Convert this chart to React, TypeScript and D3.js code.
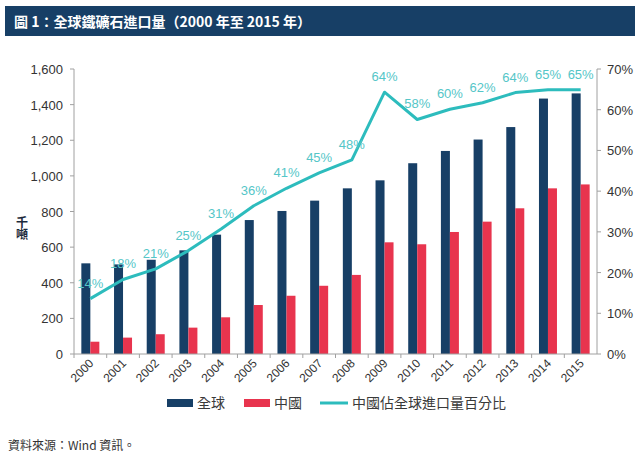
import React from "react";
import * as d3 from "d3";

const years = ["2000","2001","2002","2003","2004","2005","2006","2007","2008","2009","2010","2011","2012","2013","2014","2015"];
const globalImports = [509, 503, 529, 582, 670, 752, 803, 861, 930, 975, 1071, 1140, 1204, 1274, 1434, 1463];
const chinaImports = [69, 92, 111, 148, 206, 275, 327, 383, 444, 627, 616, 685, 743, 818, 930, 952];
const chinaShare = [13.6, 18.3, 20.9, 25.4, 30.7, 36.4, 40.7, 44.5, 47.7, 64.3, 57.6, 60.1, 61.7, 64.2, 64.9, 64.9];
const shareLabels = ["14%","18%","21%","25%","31%","36%","41%","45%","48%","64%","58%","60%","62%","64%","65%","65%"];
const leftTicks = [0, 200, 400, 600, 800, 1000, 1200, 1400, 1600];
const rightTicks = [0, 10, 20, 30, 40, 50, 60, 70];

const NAVY = "#173f66";
const RED = "#e8344e";
const TEAL = "#2dbcbd";
const TEAL_TXT = "#55c6c8";
const AXIS = "#a0a0a0";
const FONT = "'Liberation Sans', Arial, 'Noto Sans CJK TC', sans-serif";
const CJK = "'Noto Sans CJK TC', 'Liberation Sans', sans-serif";

export default function App() {
  const W = 640, H = 455;
  const x0 = 74, x1 = 597, yTop = 69, yBot = 354;
  const x = d3.scaleBand<string>().domain(years).range([x0, x1]).paddingInner(0).paddingOuter(0);
  const yL = d3.scaleLinear().domain([0, 1600]).range([yBot, yTop]);
  const yR = d3.scaleLinear().domain([0, 70]).range([yBot, yTop]);
  const bw = 9;
  const cx = (y: string) => (x(y) as number) + x.bandwidth() / 2;
  const line = d3.line<number>().x((_, i) => cx(years[i])).y(d => yR(d)).curve(d3.curveLinear);

  return (
    <svg width={W} height={H} style={{ position: "absolute", left: 0, top: 0, background: "#fff" }} fontFamily={FONT}>
      <rect x={5} y={6} width={630} height={30} fill={NAVY} />
      <text x={14} y={26.5} fill="#fff" fontSize={14} fontWeight="bold" fontFamily={CJK}>圖 1：全球鐵礦石進口量（2000 年至 2015 年）</text>

      {/* bars */}
      {years.map((yr, i) => (
        <g key={yr}>
          <rect x={cx(yr) - bw} y={yL(globalImports[i])} width={bw} height={yBot - yL(globalImports[i])} fill={NAVY} />
          <rect x={cx(yr)} y={yL(chinaImports[i])} width={bw} height={yBot - yL(chinaImports[i])} fill={RED} />
        </g>
      ))}

      {/* axes */}
      <line x1={x0} x2={x0} y1={yTop} y2={yBot} stroke={AXIS} />
      {leftTicks.map(t => (
        <g key={t}>
          <line x1={x0 - 4} x2={x0} y1={yL(t)} y2={yL(t)} stroke={AXIS} />
          <text x={x0 - 11} y={yL(t) + 5} textAnchor="end" fontSize={13} fill="#333">{d3.format(",")(t)}</text>
        </g>
      ))}
      <line x1={x1} x2={x1} y1={yTop} y2={yBot} stroke={AXIS} />
      {rightTicks.map(t => (
        <g key={t}>
          <line x1={x1} x2={x1 + 4} y1={yR(t)} y2={yR(t)} stroke={AXIS} />
          <text x={x1 + 10} y={yR(t) + 5} textAnchor="start" fontSize={13} fill="#333">{t + "%"}</text>
        </g>
      ))}
      <line x1={x0} x2={x1} y1={yBot} y2={yBot} stroke={AXIS} />
      {years.map(yr => (
        <line key={"t" + yr} x1={x(yr) as number} x2={x(yr) as number} y1={yBot} y2={yBot + 4} stroke={AXIS} />
      ))}
      {years.map(yr => (
        <text key={"l" + yr} transform={`translate(${cx(yr) + 4},${yBot + 10}) rotate(-45)`} textAnchor="end" fontSize={12} fill="#333">{yr}</text>
      ))}

      {/* y title */}
      <text x={22} y={228} textAnchor="middle" fontSize={12} fontWeight="bold" fill="#1c2a3c" fontFamily={CJK}
        style={{ writingMode: "vertical-rl", textOrientation: "upright" } as React.CSSProperties}>千噸</text>

      {/* share line */}
      <path d={line(chinaShare) || ""} fill="none" stroke={TEAL} strokeWidth={3} strokeLinejoin="round" />
      {years.map((yr, i) => (
        <text key={"s" + yr} x={cx(yr)} y={yR(chinaShare[i]) - 11} textAnchor="middle" fontSize={13} fill={TEAL_TXT}>{shareLabels[i]}</text>
      ))}

      {/* legend */}
      <rect x={167} y={399} width={26} height={8} fill={NAVY} />
      <text x={197} y={408} fontSize={14} fill="#3a3a3a" fontFamily={CJK}>全球</text>
      <rect x={244} y={399} width={26} height={8} fill={RED} />
      <text x={274} y={408} fontSize={14} fill="#3a3a3a" fontFamily={CJK}>中國</text>
      <line x1={320} x2={348} y1={403} y2={403} stroke={TEAL} strokeWidth={3} />
      <text x={352} y={408} fontSize={14} fill="#3a3a3a" fontFamily={CJK}>中國佔全球進口量百分比</text>

      <text x={8} y={450} fontSize={12} fill="#333" fontFamily={CJK}>資料來源：Wind 資訊。</text>
    </svg>
  );
}
